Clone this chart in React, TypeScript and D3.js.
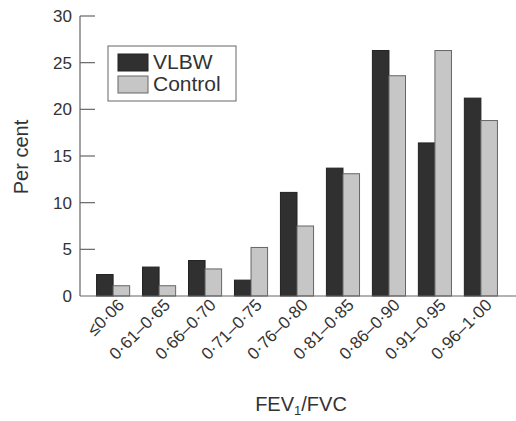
import React from 'react'
import * as d3 from 'd3'

const categories = ['≤0·06', '0·61–0·65', '0·66–0·70', '0·71–0·75', '0·76–0·80', '0·81–0·85', '0·86–0·90', '0·91–0·95', '0·96–1·00']
const seriesNames = ['VLBW', 'Control']
const vlbw = [2.3, 3.1, 3.8, 1.7, 11.1, 13.7, 26.3, 16.4, 21.2]
const control = [1.1, 1.1, 2.9, 5.2, 7.5, 13.1, 23.6, 26.3, 18.8]
const yTicks = [0, 5, 10, 15, 20, 25, 30]

const W = 516
const H = 421
const colors = ['#303030', '#c6c6c6']
const font = 'Liberation Sans, Arial, Helvetica, sans-serif'

export default function App() {
  const x = d3.scaleBand<string>()
    .domain(categories)
    .range([80, 514])
    .paddingInner(0.28)
    .paddingOuter(0.36)
  const x1 = d3.scaleBand<string>()
    .domain(seriesNames)
    .range([0, x.bandwidth()])
  const y = d3.scaleLinear().domain([0, 30]).range([296, 16])
  const series = [vlbw, control]

  return (
    <div style={{ position: 'absolute', left: 0, top: 0 }}>
      <svg width={W} height={H} style={{ display: 'block', background: '#fff' }} fontFamily={font}>
        {/* bars */}
        {categories.map((c, i) => (
          <g key={c} transform={`translate(${x(c)},0)`}>
            {series.map((s, j) => (
              <rect
                key={j}
                x={x1(seriesNames[j])}
                y={y(s[i])}
                width={x1.bandwidth()}
                height={y(0) - y(s[i])}
                fill={colors[j]}
                stroke={j === 0 ? '#222' : '#666'}
                strokeWidth={1}
              />
            ))}
          </g>
        ))}

        {/* axes */}
        <line x1={80} x2={80} y1={y(30)} y2={y(0)} stroke="#666" strokeWidth={1.2} />
        <line x1={80} x2={516} y1={y(0)} y2={y(0)} stroke="#666" strokeWidth={1.2} />
        {yTicks.map(t => (
          <g key={t}>
            {t > 0 && <line x1={80} x2={95} y1={y(t)} y2={y(t)} stroke="#666" strokeWidth={1.2} />}
            <text x={72} y={y(t)} dy="0.36em" textAnchor="end" fontSize={17} fill="#333">{t}</text>
          </g>
        ))}

        {/* x tick labels */}
        {categories.map(c => {
          const cx = (x(c) ?? 0) + x.bandwidth() / 2 + 12
          return (
            <text
              key={c}
              transform={`translate(${cx},${306}) rotate(-45)`}
              textAnchor="end"
              fontSize={17}
              fill="#333"
            >
              {c}
            </text>
          )
        })}

        {/* axis titles */}
        <text transform="translate(28,157) rotate(-90)" textAnchor="middle" fontSize={20} fill="#333">Per cent</text>
        <text x={301} y={411} textAnchor="middle" fontSize={20} fill="#333">
          FEV<tspan fontSize={13} dy={4}>1</tspan><tspan dy={-4}>/FVC</tspan>
        </text>

        {/* legend */}
        <rect x={108} y={46} width={128} height={55} fill="#fff" stroke="#666" strokeWidth={1} />
        {seriesNames.map((n, j) => (
          <g key={n} transform={`translate(118,${54 + j * 22})`}>
            <rect width={30} height={17} fill={colors[j]} stroke={j === 0 ? '#222' : '#666'} />
            <text x={35} y={15} fontSize={21} fill="#333">{n}</text>
          </g>
        ))}
      </svg>
    </div>
  )
}
